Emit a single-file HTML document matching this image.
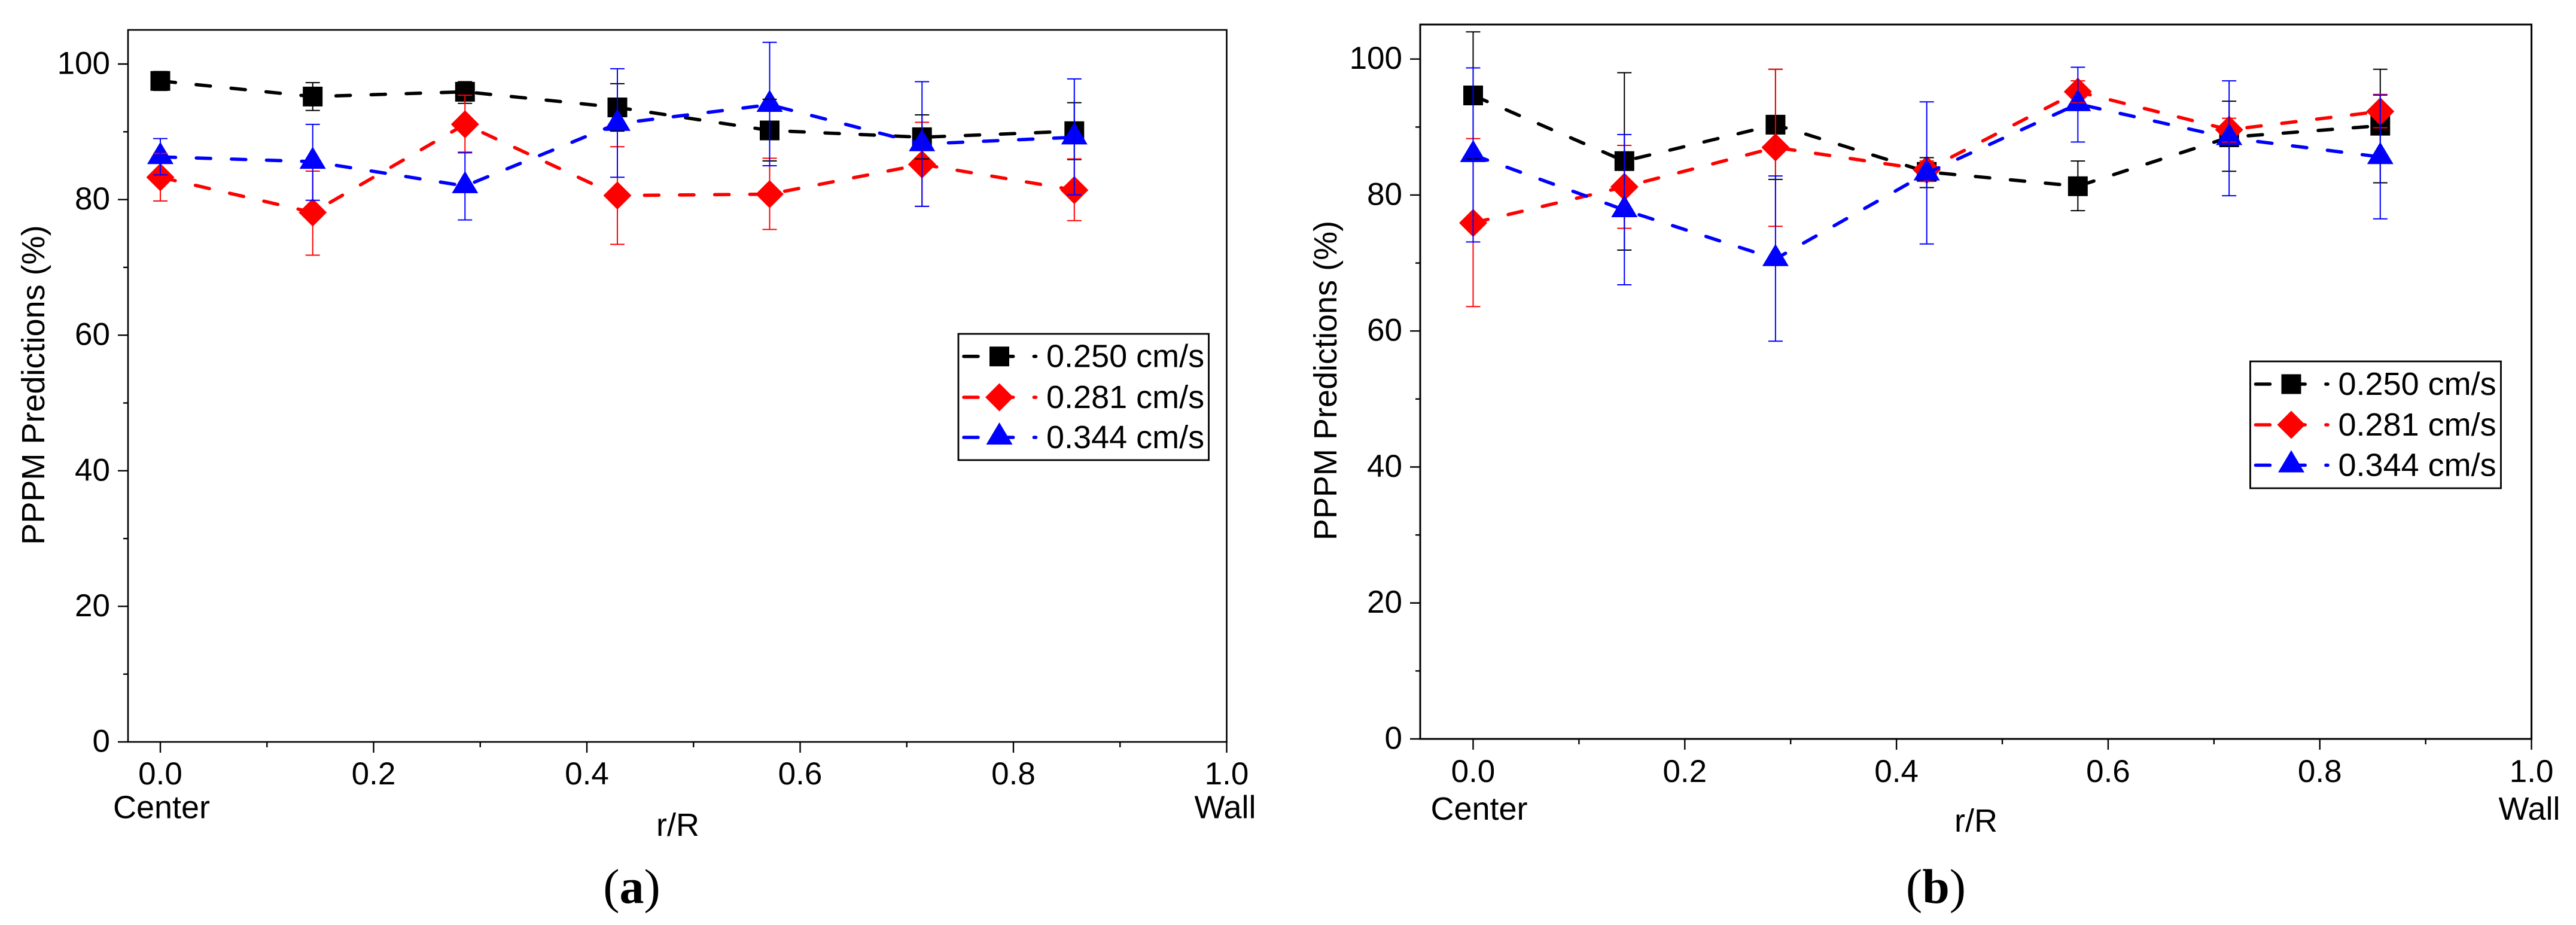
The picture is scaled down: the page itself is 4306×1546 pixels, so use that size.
<!DOCTYPE html>
<html lang="en">
<head>
<meta charset="utf-8">
<title>PPPM Predictions vs r/R</title>
<style>
  html, body { margin: 0; padding: 0; background: #fff; }
  svg { display: block; }
  text { font-family: "Liberation Sans", sans-serif; fill: #000; }
  .caption { font-family: "Liberation Serif", serif; font-size: 82px; }
</style>
</head>
<body>
<svg id="figure" xmlns="http://www.w3.org/2000/svg" width="4306" height="1546" viewBox="0 0 4306 1546">
  <rect width="4306" height="1546" fill="#fff"/>

  <g id="panel-a">
    <text transform="translate(74 643.5) rotate(-90)" text-anchor="middle" font-size="54">PPPM Predictions (%)</text>
    <text x="1133" y="1397" text-anchor="middle" font-size="54">r/R</text>
    <text x="270" y="1367.5" text-anchor="middle" font-size="54">Center</text>
    <text x="2048" y="1367.5" text-anchor="middle" font-size="54">Wall</text>
    <text class="caption" x="1056" y="1509" text-anchor="middle">(<tspan font-weight="bold">a</tspan>)</text>
  </g>

  <g id="panel-b">
    <text transform="translate(2234 636) rotate(-90)" text-anchor="middle" font-size="54">PPPM Predictions (%)</text>
    <text x="3303" y="1390" text-anchor="middle" font-size="54">r/R</text>
    <text x="2472.5" y="1370" text-anchor="middle" font-size="54">Center</text>
    <text x="4228" y="1370" text-anchor="middle" font-size="54">Wall</text>
    <text class="caption" x="3236" y="1509" text-anchor="middle">(<tspan font-weight="bold">b</tspan>)</text>
  </g>
</svg>

<script>
// ---- shared data ----
const positions = [0, 0.1429, 0.2857, 0.4286, 0.5714, 0.7143, 0.8571];
const xMajorTicks = [0, 0.2, 0.4, 0.6, 0.8, 1.0];
const xMinorTicks = [0.1, 0.3, 0.5, 0.7, 0.9];
const xTickLabels = ['0.0', '0.2', '0.4', '0.6', '0.8', '1.0'];
const yMajorTicks = [0, 20, 40, 60, 80, 100];
const yMinorTicks = [10, 30, 50, 70, 90];
const yTickLabels = ['0', '20', '40', '60', '80', '100'];
const seriesLabels = ['0.250 cm/s', '0.281 cm/s', '0.344 cm/s'];

// ---- panel (a) ----
const aBlackValues = [97.5, 95.2, 95.9, 93.6, 90.2, 89.2, 90.1];
const aBlackUpper  = [98.9, 97.25, 97.4, 97.1, 94.8, 92.5, 94.3];
const aBlackLower  = [96.1, 93.15, 94.2, 90.1, 85.7, 86.0, 85.9];
const aRedValues   = [83.3, 78.1, 91.1, 80.6, 80.8, 85.2, 81.4];
const aRedUpper    = [86.8, 84.2, 95.4, 87.8, 86.1, 91.4, 86.0];
const aRedLower    = [79.8, 71.8, 87.0, 73.4, 75.6, 79.0, 76.9];
const aBlueValues  = [86.3, 85.6, 82.0, 91.2, 94.0, 88.2, 89.2];
const aBlueUpper   = [89.0, 91.1, 86.9, 99.3, 103.2, 97.4, 97.8];
const aBlueLower   = [83.65, 79.9, 77.0, 83.3, 85.0, 79.0, 80.7];

// ---- panel (b) ----
const bBlackValues = [94.65, 85.0, 90.35, 83.4, 81.3, 88.5, 90.2];
const bBlackUpper  = [104.0, 98.0, 98.5, 85.5, 85.0, 93.8, 98.5];
const bBlackLower  = [85.3, 71.9, 82.3, 81.1, 77.7, 83.5, 81.8];
const bRedValues   = [75.9, 81.2, 87.0, 83.7, 95.2, 89.6, 92.3];
const bRedUpper    = [88.3, 87.3, 98.5, 85.0, 96.8, 91.3, 94.8];
const bRedLower    = [63.6, 75.1, 75.4, 82.0, 93.6, 87.8, 89.9];
const bBlueValues  = [85.9, 77.8, 70.6, 83.2, 93.4, 88.4, 85.6];
const bBlueUpper   = [98.7, 88.9, 82.8, 93.7, 98.8, 96.8, 94.7];
const bBlueLower   = [73.1, 66.8, 58.5, 72.8, 87.8, 79.9, 76.5];

const SVGNS = 'http://www.w3.org/2000/svg';
function add(parent, tag, attrs, txt) {
  const e = document.createElementNS(SVGNS, tag);
  for (const k in attrs) e.setAttribute(k, attrs[k]);
  if (txt !== undefined) e.textContent = txt;
  parent.appendChild(e);
  return e;
}

function markerPoints(kind, cx, cy) {
  if (kind === 'square') return [[cx-16.5,cy-16.5],[cx+16.5,cy-16.5],[cx+16.5,cy+16.5],[cx-16.5,cy+16.5]];
  if (kind === 'diamond') return [[cx,cy-23.5],[cx+23.5,cy],[cx,cy+23.5],[cx-23.5,cy]];
  return [[cx,cy-25],[cx+22,cy+12],[cx-22,cy+12]];
}
function pointsAttr(pts) { return pts.map(p => p[0].toFixed(1) + ',' + p[1].toFixed(1)).join(' '); }

function drawPanel(panel) {
  const root = document.getElementById(panel.id);
  const f = panel.frame;
  const xScale = v => f.x0 + (v - panel.xMin) / (panel.xMax - panel.xMin) * (f.x1 - f.x0);
  const yScale = v => f.y1 - (v - 0) / (panel.yMax - 0) * (f.y1 - f.y0);

  const frame = add(root, 'rect', {x: f.x0, y: f.y0, width: f.x1 - f.x0, height: f.y1 - f.y0, fill: 'none', stroke: '#000', 'stroke-width': f.sw});
  
  

  xMajorTicks.forEach((v, i) => {
    const x = xScale(v);
    const t = add(root, 'line', {x1: x, x2: x, y1: f.y1, y2: f.y1 + 18, stroke: '#000', 'stroke-width': 2.4});
    
    
    const l = add(root, 'text', {x: x, y: panel.xLabelY, 'text-anchor': 'middle', 'font-size': 53}, xTickLabels[i]);
    
    
  });
  xMinorTicks.forEach(v => {
    const x = xScale(v);
    const t = add(root, 'line', {x1: x, x2: x, y1: f.y1, y2: f.y1 + 9, stroke: '#000', 'stroke-width': 2.4});
    
    
  });
  yMajorTicks.forEach((v, i) => {
    const y = yScale(v);
    const t = add(root, 'line', {x1: f.x0 - 17, x2: f.x0, y1: y, y2: y, stroke: '#000', 'stroke-width': 2.4});
    
    
    const l = add(root, 'text', {x: panel.yLabelX, y: y + 16.5, 'text-anchor': 'end', 'font-size': 53}, yTickLabels[i]);
    
    
  });
  yMinorTicks.forEach(v => {
    const y = yScale(v);
    const t = add(root, 'line', {x1: f.x0 - 8, x2: f.x0, y1: y, y2: y, stroke: '#000', 'stroke-width': 2.4});
    
    
  });

  // dashed lines and markers, series by series
  panel.series.forEach(s => {
    const g = add(root, 'g', {});
    
    

    const linePts = positions.map((p, i) => [xScale(p), yScale(s.values[i])]);
    const ln = add(g, 'polyline', {
      points: pointsAttr(linePts), fill: 'none', stroke: s.color, 'stroke-width': 5.6,
      'stroke-dasharray': '24 34.7', 'stroke-dashoffset': -1.5, 'stroke-linecap': 'round', 'stroke-linejoin': 'round'
    });
    
    

    linePts.forEach(pt => {
      const m = add(g, 'polygon', {points: pointsAttr(markerPoints(s.kind, pt[0], pt[1])), fill: s.color});
      
      
    });
  });

  // error bars sit above every marker
  panel.series.forEach(s => {
    const g = add(root, 'g', {});
    
    
    positions.forEach((p, i) => {
      const x = xScale(p);
      const yU = yScale(s.upper[i]);
      const yL = yScale(s.lower[i]);
      const eb = add(g, 'path', {
        d: 'M' + (x-12) + ' ' + yU + 'H' + (x+12) + 'M' + x + ' ' + yU + 'V' + yL + 'M' + (x-12) + ' ' + yL + 'H' + (x+12),
        fill: 'none', stroke: s.color, 'stroke-width': 2
      });
      
      
    });
  });

  const lg = panel.legend;
  const legend = add(root, 'g', {});
  
  
  const box = add(legend, 'rect', {x: lg.x, y: lg.y, width: lg.w, height: lg.h, fill: '#fff', stroke: '#000', 'stroke-width': 2.8});
  
  
  panel.series.forEach((s, i) => {
    const cy = lg.rows[i];
    const entry = add(legend, 'g', {});
    
    
    const ll = add(entry, 'line', {
      x1: lg.x + 9, x2: lg.x + 129.5, y1: cy, y2: cy, stroke: s.color, 'stroke-width': 5.6,
      'stroke-dasharray': '24 34.7', 'stroke-linecap': 'round'
    });
    
    
    const mk = add(entry, 'polygon', {points: pointsAttr(markerPoints(s.kind, lg.x + 68.5, cy)), fill: s.color});
    
    
    const tx = add(entry, 'text', {x: lg.x + 147, y: cy + 18, 'font-size': 54}, seriesLabels[i]);
    
    
  });
}

drawPanel({
  id: 'panel-a',
  frame: {x0: 214, x1: 2050.5, y0: 50, y1: 1240, sw: 2.6},
  xMin: -0.0303, xMax: 1.0, yMax: 105.03,
  xLabelY: 1311, yLabelX: 184,
  legend: {x: 1602, y: 558, w: 418.5, h: 211, rows: [595.7, 664, 731]},
  series: [
    {key: 'black', kind: 'square', color: '#000000', values: aBlackValues, upper: aBlackUpper, lower: aBlackLower},
    {key: 'red', kind: 'diamond', color: '#ff0000', values: aRedValues, upper: aRedUpper, lower: aRedLower},
    {key: 'blue', kind: 'triangle', color: '#0000ff', values: aBlueValues, upper: aBlueUpper, lower: aBlueLower}
  ]
});
drawPanel({
  id: 'panel-b',
  frame: {x0: 2374, x1: 4231.6, y0: 41, y1: 1235, sw: 3},
  xMin: -0.05, xMax: 1.0, yMax: 105.08,
  xLabelY: 1307, yLabelX: 2344,
  legend: {x: 3761.5, y: 604, w: 419, h: 212, rows: [642, 710, 777.5]},
  series: [
    {key: 'black', kind: 'square', color: '#000000', values: bBlackValues, upper: bBlackUpper, lower: bBlackLower},
    {key: 'red', kind: 'diamond', color: '#ff0000', values: bRedValues, upper: bRedUpper, lower: bRedLower},
    {key: 'blue', kind: 'triangle', color: '#0000ff', values: bBlueValues, upper: bBlueUpper, lower: bBlueLower}
  ]
});
</script>
</body>
</html>
